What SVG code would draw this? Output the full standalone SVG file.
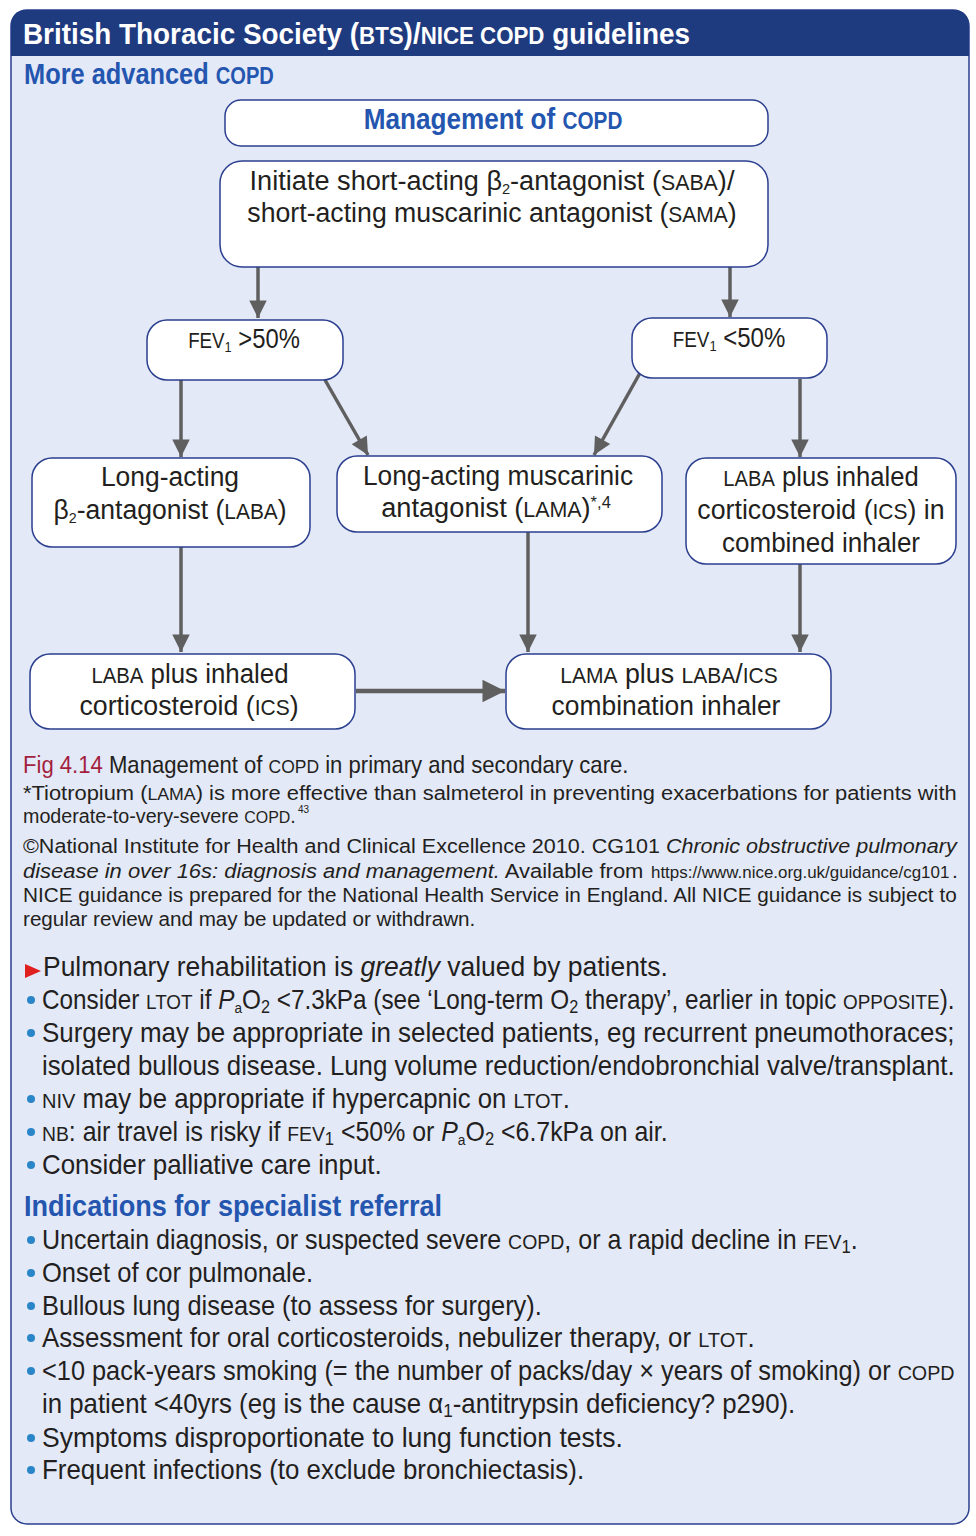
<svg xmlns="http://www.w3.org/2000/svg" width="976" height="1536" viewBox="0 0 976 1536">
<defs>
<style>
text{font-family:"Liberation Sans",Arial,sans-serif;fill:#231f20}
.hd{fill:#ffffff;font-weight:bold;font-size:30px}
.blue{fill:#2456b0;font-weight:bold;font-size:29px}
.node{fill:#ffffff;stroke:#2b3f8f;stroke-width:1.5}
.nt{font-size:28px;text-anchor:middle}
.sc{font-size:22px}
.sub{font-size:15px}
.cap{font-size:21px}
.bl{font-size:27px}
.dot{fill:#2a86c8}
.conn line{stroke:#5f5f5f;stroke-width:3.5}
</style>
<marker id="ah" viewBox="0 0 10 10" refX="10" refY="5" markerWidth="8" markerHeight="5" markerUnits="strokeWidth" orient="auto">
<path d="M0,0 L10,5 L0,10 z" fill="#5f5f5f"/>
</marker>
</defs>

<g id="panel">
<rect x="11" y="10" width="958" height="1514" rx="16" fill="#e4e9f7" stroke="#2b3f8f" stroke-width="1.5"/>
<path d="M11,56 L11,26 Q11,10 27,10 L953,10 Q969,10 969,26 L969,56 Z" fill="#1f3b80"/>
<text class="hd" transform="translate(23,44) scale(0.88,1)" textLength="758" lengthAdjust="spacingAndGlyphs">British Thoracic Society (<tspan font-size="24">BTS</tspan>)/<tspan font-size="24">NICE COPD</tspan> guidelines</text>
<text class="blue" transform="translate(24,84) scale(0.88,1)" textLength="284" lengthAdjust="spacingAndGlyphs">More advanced <tspan font-size="23">COPD</tspan></text>
</g>

<g class="conn" id="connectors">
<line x1="258" y1="267" x2="258" y2="318" marker-end="url(#ah)"/>
<line x1="730" y1="267" x2="730" y2="317" marker-end="url(#ah)"/>
<line x1="181" y1="380" x2="181" y2="457" marker-end="url(#ah)"/>
<line x1="325" y1="380" x2="368" y2="455" marker-end="url(#ah)"/>
<line x1="640" y1="373" x2="594" y2="455" marker-end="url(#ah)"/>
<line x1="800" y1="379" x2="800" y2="457" marker-end="url(#ah)"/>
<line x1="181" y1="547" x2="181" y2="652" marker-end="url(#ah)"/>
<line x1="528" y1="532" x2="528" y2="652" marker-end="url(#ah)"/>
<line x1="800" y1="564" x2="800" y2="652" marker-end="url(#ah)"/>
<line x1="356" y1="691" x2="505" y2="691" marker-end="url(#ah)" style="stroke-width:4.5"/>
</g>

<g id="n-title">
<rect class="node" x="225" y="100" width="543" height="46" rx="16"/>
<text class="blue" text-anchor="middle" transform="translate(493,129) scale(0.88,1)" textLength="294" lengthAdjust="spacingAndGlyphs">Management of <tspan font-size="23">COPD</tspan></text>
</g>
<g id="n-initiate">
<rect class="node" x="220" y="161" width="548" height="106" rx="22"/>
<text class="nt" transform="translate(492,190) scale(0.88,1)" textLength="551" lengthAdjust="spacingAndGlyphs">Initiate short-acting β<tspan class="sub" dy="4">2</tspan><tspan dy="-4">-antagonist (</tspan><tspan class="sc">SABA</tspan>)/</text>
<text class="nt" transform="translate(492,222) scale(0.88,1)" textLength="556" lengthAdjust="spacingAndGlyphs">short-acting muscarinic antagonist (<tspan class="sc">SAMA</tspan>)</text>
</g>
<g id="n-fev-high">
<rect class="node" x="147" y="320" width="196" height="60" rx="20"/>
<text class="nt" transform="translate(244,348) scale(0.88,1)" textLength="127" lengthAdjust="spacingAndGlyphs"><tspan class="sc">FEV</tspan><tspan class="sub" dy="4">1</tspan><tspan dy="-4"> &gt;50%</tspan></text>
</g>
<g id="n-fev-low">
<rect class="node" x="632" y="318" width="195" height="60" rx="20"/>
<text class="nt" transform="translate(729,347) scale(0.88,1)" textLength="128" lengthAdjust="spacingAndGlyphs"><tspan class="sc">FEV</tspan><tspan class="sub" dy="4">1</tspan><tspan dy="-4"> &lt;50%</tspan></text>
</g>
<g id="n-laba">
<rect class="node" x="32" y="458" width="278" height="89" rx="20"/>
<text class="nt" transform="translate(170,486) scale(0.88,1)" textLength="157" lengthAdjust="spacingAndGlyphs">Long-acting</text>
<text class="nt" transform="translate(170,519) scale(0.88,1)" textLength="265" lengthAdjust="spacingAndGlyphs">β<tspan class="sub" dy="4">2</tspan><tspan dy="-4">-antagonist (</tspan><tspan class="sc">LABA</tspan>)</text>
</g>
<g id="n-lama">
<rect class="node" x="337" y="456" width="325" height="76" rx="20"/>
<text class="nt" transform="translate(498,485) scale(0.88,1)" textLength="307" lengthAdjust="spacingAndGlyphs">Long-acting muscarinic</text>
<text class="nt" transform="translate(496,517) scale(0.88,1)" textLength="261" lengthAdjust="spacingAndGlyphs">antagonist (<tspan class="sc">LAMA</tspan>)<tspan font-size="17" dy="-9">*,4</tspan></text>
</g>
<g id="n-laba-ics-comb">
<rect class="node" x="686" y="458" width="270" height="106" rx="20"/>
<text class="nt" transform="translate(821,486) scale(0.88,1)" textLength="222" lengthAdjust="spacingAndGlyphs"><tspan class="sc">LABA</tspan> plus inhaled</text>
<text class="nt" transform="translate(821,519) scale(0.88,1)" textLength="281" lengthAdjust="spacingAndGlyphs">corticosteroid (<tspan class="sc">ICS</tspan>) in</text>
<text class="nt" transform="translate(821,552) scale(0.88,1)" textLength="225" lengthAdjust="spacingAndGlyphs">combined inhaler</text>
</g>
<g id="n-laba-ics">
<rect class="node" x="30" y="654" width="325" height="75" rx="20"/>
<text class="nt" transform="translate(190,683) scale(0.88,1)" textLength="224" lengthAdjust="spacingAndGlyphs"><tspan class="sc">LABA</tspan> plus inhaled</text>
<text class="nt" transform="translate(189,715) scale(0.88,1)" textLength="249" lengthAdjust="spacingAndGlyphs">corticosteroid (<tspan class="sc">ICS</tspan>)</text>
</g>
<g id="n-lama-laba-ics">
<rect class="node" x="506" y="654" width="325" height="75" rx="20"/>
<text class="nt" transform="translate(669,683) scale(0.88,1)" textLength="247" lengthAdjust="spacingAndGlyphs"><tspan class="sc">LAMA</tspan> plus <tspan class="sc">LABA</tspan>/<tspan class="sc">ICS</tspan></text>
<text class="nt" transform="translate(666,715) scale(0.88,1)" textLength="260" lengthAdjust="spacingAndGlyphs">combination inhaler</text>
</g>

<g id="caption">
<text font-size="24" transform="translate(23,773) scale(0.88,1)" textLength="688" lengthAdjust="spacingAndGlyphs"><tspan fill="#a31f3f">Fig 4.14</tspan>  Management of <tspan font-size="19">COPD</tspan> in primary and secondary care.</text>
<text class="cap" transform="translate(23,800) scale(0.88,1)" textLength="1061" lengthAdjust="spacingAndGlyphs">*Tiotropium (<tspan font-size="17">LAMA</tspan>) is more effective than salmeterol in preventing exacerbations for patients with</text>
<text class="cap" transform="translate(23,823) scale(0.88,1)" textLength="310" lengthAdjust="spacingAndGlyphs">moderate-to-very-severe <tspan font-size="17">COPD</tspan>.</text>
<text x="298" y="813" font-size="10" fill="#e0007a">43</text>
<text class="cap" transform="translate(23,853) scale(0.88,1)" textLength="1061" lengthAdjust="spacingAndGlyphs">©National Institute for Health and Clinical Excellence 2010. CG101 <tspan font-style="italic">Chronic obstructive pulmonary</tspan></text>
<text class="cap" transform="translate(23,878) scale(0.88,1)" textLength="705" lengthAdjust="spacingAndGlyphs"><tspan font-style="italic">disease in over 16s: diagnosis and management.</tspan> Available from</text>
<text font-size="17" fill="#2b3990" transform="translate(651,878) scale(0.88,1)" textLength="339" lengthAdjust="spacingAndGlyphs">https://www.nice.org.uk/guidance/cg101</text>
<text class="cap" x="952" y="878">.</text>
<text class="cap" transform="translate(23,902) scale(0.88,1)" textLength="1061" lengthAdjust="spacingAndGlyphs">NICE guidance is prepared for the National Health Service in England. All NICE guidance is subject to</text>
<text class="cap" transform="translate(23,926) scale(0.88,1)" textLength="514" lengthAdjust="spacingAndGlyphs">regular review and may be updated or withdrawn.</text>
</g>

<g id="bullets">
<polygon points="25,964 41,971 25,978" fill="#e0201f"/>
<text class="bl" transform="translate(43,976) scale(0.88,1)" textLength="710" lengthAdjust="spacingAndGlyphs">Pulmonary rehabilitation is <tspan font-style="italic">greatly</tspan> valued by patients.</text>
<circle class="dot" cx="31" cy="1000" r="4"/>
<text class="bl" transform="translate(42,1009) scale(0.88,1)" textLength="1037" lengthAdjust="spacingAndGlyphs">Consider <tspan font-size="21">LTOT</tspan> if <tspan font-style="italic">P</tspan><tspan font-size="15" dy="4">a</tspan><tspan dy="-4">O</tspan><tspan font-size="18" dy="4">2</tspan><tspan dy="-4"> &lt;7.3kPa (see ‘Long-term O</tspan><tspan font-size="18" dy="4">2</tspan><tspan dy="-4"> therapy’, earlier in topic </tspan><tspan font-size="21">OPPOSITE</tspan>).</text>
<circle class="dot" cx="31" cy="1033" r="4"/>
<text class="bl" transform="translate(42,1042) scale(0.88,1)" textLength="1037" lengthAdjust="spacingAndGlyphs">Surgery may be appropriate in selected patients, eg recurrent pneumothoraces;</text>
<text class="bl" transform="translate(42,1075) scale(0.88,1)" textLength="1037" lengthAdjust="spacingAndGlyphs">isolated bullous disease. Lung volume reduction/endobronchial valve/transplant.</text>
<circle class="dot" cx="31" cy="1099" r="4"/>
<text class="bl" transform="translate(42,1108) scale(0.88,1)" textLength="600" lengthAdjust="spacingAndGlyphs"><tspan font-size="21">NIV</tspan> may be appropriate if hypercapnic on <tspan font-size="21">LTOT</tspan>.</text>
<circle class="dot" cx="31" cy="1132" r="4"/>
<text class="bl" transform="translate(42,1141) scale(0.88,1)" textLength="711" lengthAdjust="spacingAndGlyphs"><tspan font-size="21">NB</tspan>: air travel is risky if <tspan font-size="21">FEV</tspan><tspan font-size="18" dy="4">1</tspan><tspan dy="-4"> &lt;50% or </tspan><tspan font-style="italic">P</tspan><tspan font-size="15" dy="4">a</tspan><tspan dy="-4">O</tspan><tspan font-size="18" dy="4">2</tspan><tspan dy="-4"> &lt;6.7kPa on air.</tspan></text>
<circle class="dot" cx="31" cy="1165" r="4"/>
<text class="bl" transform="translate(42,1174) scale(0.88,1)" textLength="386" lengthAdjust="spacingAndGlyphs">Consider palliative care input.</text>

<text class="blue" transform="translate(24,1216) scale(0.88,1)" textLength="475" lengthAdjust="spacingAndGlyphs">Indications for specialist referral</text>
<circle class="dot" cx="31" cy="1240" r="4"/>
<text class="bl" transform="translate(42,1249) scale(0.88,1)" textLength="927" lengthAdjust="spacingAndGlyphs">Uncertain diagnosis, or suspected severe <tspan font-size="21">COPD</tspan>, or a rapid decline in <tspan font-size="21">FEV</tspan><tspan font-size="18" dy="4">1</tspan><tspan dy="-4">.</tspan></text>
<circle class="dot" cx="31" cy="1273" r="4"/>
<text class="bl" transform="translate(42,1282) scale(0.88,1)" textLength="308" lengthAdjust="spacingAndGlyphs">Onset of cor pulmonale.</text>
<circle class="dot" cx="31" cy="1306" r="4"/>
<text class="bl" transform="translate(42,1315) scale(0.88,1)" textLength="568" lengthAdjust="spacingAndGlyphs">Bullous lung disease (to assess for surgery).</text>
<circle class="dot" cx="31" cy="1338" r="4"/>
<text class="bl" transform="translate(42,1347) scale(0.88,1)" textLength="810" lengthAdjust="spacingAndGlyphs">Assessment for oral corticosteroids, nebulizer therapy, or <tspan font-size="21">LTOT</tspan>.</text>
<circle class="dot" cx="31" cy="1371" r="4"/>
<text class="bl" transform="translate(42,1380) scale(0.88,1)" textLength="1037" lengthAdjust="spacingAndGlyphs">&lt;10 pack-years smoking (= the number of packs/day × years of smoking) or <tspan font-size="21">COPD</tspan></text>
<text class="bl" transform="translate(42,1413) scale(0.88,1)" textLength="856" lengthAdjust="spacingAndGlyphs">in patient &lt;40yrs (eg is the cause α<tspan font-size="18" dy="4">1</tspan><tspan dy="-4">-antitrypsin deficiency? p290).</tspan></text>
<circle class="dot" cx="31" cy="1438" r="4"/>
<text class="bl" transform="translate(42,1447) scale(0.88,1)" textLength="660" lengthAdjust="spacingAndGlyphs">Symptoms disproportionate to lung function tests.</text>
<circle class="dot" cx="31" cy="1470" r="4"/>
<text class="bl" transform="translate(42,1479) scale(0.88,1)" textLength="616" lengthAdjust="spacingAndGlyphs">Frequent infections (to exclude bronchiectasis).</text>
</g>
</svg>
